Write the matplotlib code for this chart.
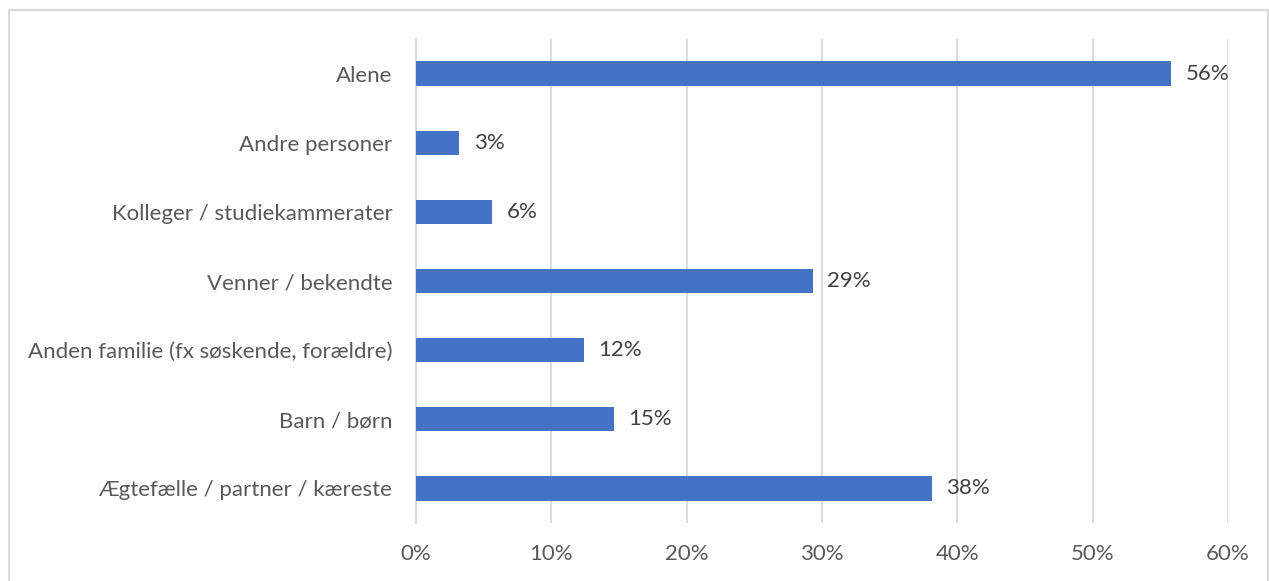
import matplotlib.pyplot as plt
from matplotlib.patches import Rectangle

categories = ["Ægtefælle / partner / kæreste", "Barn / børn",
              "Anden familie (fx søskende, forældre)", "Venner / bekendte",
              "Kolleger / studiekammerater", "Andre personer", "Alene"]
values = [38.1, 14.6, 12.4, 29.3, 5.6, 3.2, 55.8]
labels = ["38%", "15%", "12%", "29%", "6%", "3%", "56%"]
xticks = [0, 10, 20, 30, 40, 50, 60]

plt.rcParams['font.family'] = ['Lato', 'DejaVu Sans']
text_col = '#595959'
grid_col = '#d9d9d9'
fs = 16

fig = plt.figure(figsize=(12.69, 5.81), dpi=100)
W, H = 1269, 581
ax = fig.add_axes([416 / W, 1 - 523 / H, (1228 - 416) / W, (523 - 39) / H])

pos = list(range(len(categories)))
ax.barh(pos, values, height=0.35, color='#4472c4', zorder=3)
for p, v, lab in zip(pos, values, labels):
    ax.text(v + 1.1, p, lab, va='center', ha='left', fontsize=fs, color='#404040')

ax.set_xlim(0, 60)
ax.set_ylim(-0.5, 6.5)
ax.set_xticks(xticks)
ax.set_xticklabels([f"{t}%" for t in xticks])
ax.set_yticks(pos)
ax.set_yticklabels(categories)
ax.tick_params(axis='x', length=0, pad=15, labelsize=fs, labelcolor=text_col)
ax.tick_params(axis='y', length=0, pad=17, labelsize=fs, labelcolor=text_col)
ax.grid(axis='x', color=grid_col, linewidth=1.3, zorder=0)
for s in ['top', 'right', 'bottom']:
    ax.spines[s].set_visible(False)
ax.spines['left'].set_color(grid_col)
ax.spines['left'].set_linewidth(1.3)

fig.patches.append(Rectangle((9 / W, -0.05), (1268 - 9) / W, 1 - 10 / H + 0.05,
                             transform=fig.transFigure, fill=False,
                             edgecolor=grid_col, linewidth=1.5))

fig.savefig('out.png', dpi=100)
